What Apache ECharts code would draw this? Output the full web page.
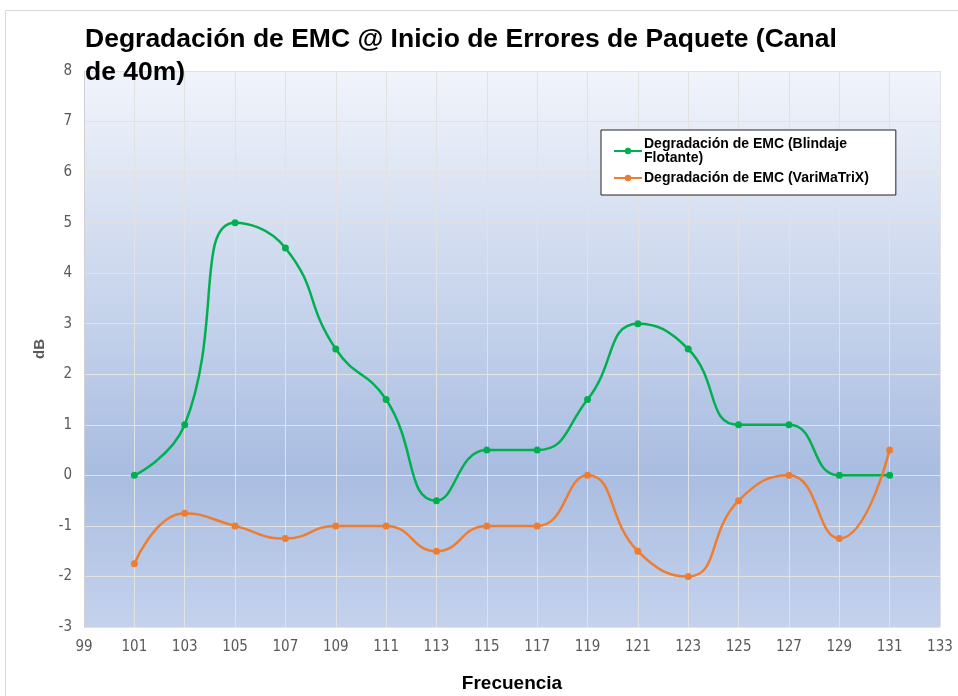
<!DOCTYPE html>
<html>
<head>
<meta charset="utf-8">
<script src="https://cdn.jsdelivr.net/npm/echarts@6/dist/echarts.min.js"></script>
<style>
  html, body { margin: 0; padding: 0; background: #fff; }
  #chart { width: 958px; height: 696px; }
</style>
</head>
<body>
<div id="chart"></div>
<script>
// frecuencias (eje X)
const frecuencias = [101, 103, 105, 107, 109, 111, 113, 115, 117, 119, 121, 123, 125, 127, 129, 131];
// Degradación de EMC (Blindaje Flotante)
const blindajeFlotante = [0, 1, 5, 4.5, 2.5, 1.5, -0.5, 0.5, 0.5, 1.5, 3, 2.5, 1, 1, 0, 0];
// Degradación de EMC (VariMaTriX)
const variMaTrix = [-1.75, -0.75, -1, -1.25, -1, -1, -1.5, -1, -1, 0, -1.5, -2, -0.5, 0, -1.25, 0.5];

const nombreVerde = 'Degradación de EMC (Blindaje Flotante)';
const nombreNaranja = 'Degradación de EMC (VariMaTriX)';

const labelFont = '"Liberation Sans Narrow", "DejaVu Sans Condensed", "Liberation Sans", Arial, sans-serif';
const boldFont = '"Liberation Sans", Arial, Helvetica, sans-serif';

function pares(ys) {
  return frecuencias.map((x, i) => [x, ys[i]]);
}

const chart = echarts.init(document.getElementById('chart'));

const option = {
  backgroundColor: '#fff',
  animation: false,
  title: {
    text: 'Degradación de EMC @ Inicio de Errores de Paquete (Canal\nde 40m)',
    left: 80,
    top: 18,
    textStyle: {
      fontFamily: boldFont,
      fontWeight: 'bold',
      fontSize: 26.5,
      lineHeight: 33,
      color: '#000'
    }
  },
  graphic: [{
    type: 'rect',
    shape: { x: 5.5, y: 10.5, width: 1000, height: 1000 },
    style: { fill: 'none', stroke: '#d9d9d9', lineWidth: 1 },
    z: -1
  }],
  legend: {
    orient: 'vertical',
    left: 601,
    top: 130,
    padding: [7, 27, 10, 12],
    backgroundColor: '#fff',
    borderColor: '#222',
    borderWidth: 1,
    itemWidth: 28,
    itemHeight: 8,
    itemGap: 6,
    formatter: function (name) {
      return name === nombreVerde ? 'Degradación de EMC (Blindaje\nFlotante)' : name;
    },
    textStyle: {
      fontFamily: boldFont,
      fontWeight: 'bold',
      fontSize: 14,
      lineHeight: 14,
      color: '#000',
      padding: [0, 0, 0, -3]
    },
    data: [nombreVerde, nombreNaranja]
  },
  grid: {
    left: 84,
    right: 18,
    top: 71,
    bottom: 69,
    outerBoundsMode: 'none',
    containLabel: false,
    show: true,
    borderWidth: 0,
    backgroundColor: new echarts.graphic.LinearGradient(0, 0, 0, 1, [
      { offset: 0, color: '#f1f4fb' },
      { offset: 0.72, color: '#a9bde1' },
      { offset: 1, color: '#c4d2ec' }
    ])
  },
  xAxis: {
    type: 'value',
    min: 99,
    max: 133,
    interval: 2,
    name: 'Frecuencia',
    nameLocation: 'middle',
    nameGap: 47,
    nameTextStyle: {
      fontFamily: boldFont,
      fontWeight: 'bold',
      fontSize: 19,
      color: '#000'
    },
    axisLine: { show: false },
    axisTick: { show: false },
    axisLabel: {
      margin: 13,
      fontFamily: labelFont,
      fontSize: 15,
      color: '#595959'
    },
    splitLine: { show: true, lineStyle: { color: '#e2e2e2', width: 1 } }
  },
  yAxis: {
    type: 'value',
    min: -3,
    max: 8,
    interval: 1,
    name: 'dB',
    nameLocation: 'middle',
    nameGap: 36,
    nameRotate: 90,
    nameTextStyle: {
      fontFamily: boldFont,
      fontWeight: 'bold',
      fontSize: 15,
      color: '#595959'
    },
    axisLine: { show: true, lineStyle: { color: '#d0d0d0' } },
    axisTick: { show: false },
    axisLabel: {
      margin: 12,
      fontFamily: labelFont,
      fontSize: 15,
      color: '#595959'
    },
    splitLine: { show: true, lineStyle: { color: '#e2e2e2', width: 1 } }
  },
  series: [
    {
      name: nombreVerde,
      type: 'line',
      smooth: 0.5,
      data: pares(blindajeFlotante),
      symbol: 'circle',
      symbolSize: 7,
      itemStyle: { color: '#00b050' },
      lineStyle: { color: '#00b050', width: 2.5 }
    },
    {
      name: nombreNaranja,
      type: 'line',
      smooth: 0.5,
      data: pares(variMaTrix),
      symbol: 'circle',
      symbolSize: 7,
      itemStyle: { color: '#ed7d31' },
      lineStyle: { color: '#ed7d31', width: 2.5 }
    }
  ]
};

chart.setOption(option);
</script>
</body>
</html>
